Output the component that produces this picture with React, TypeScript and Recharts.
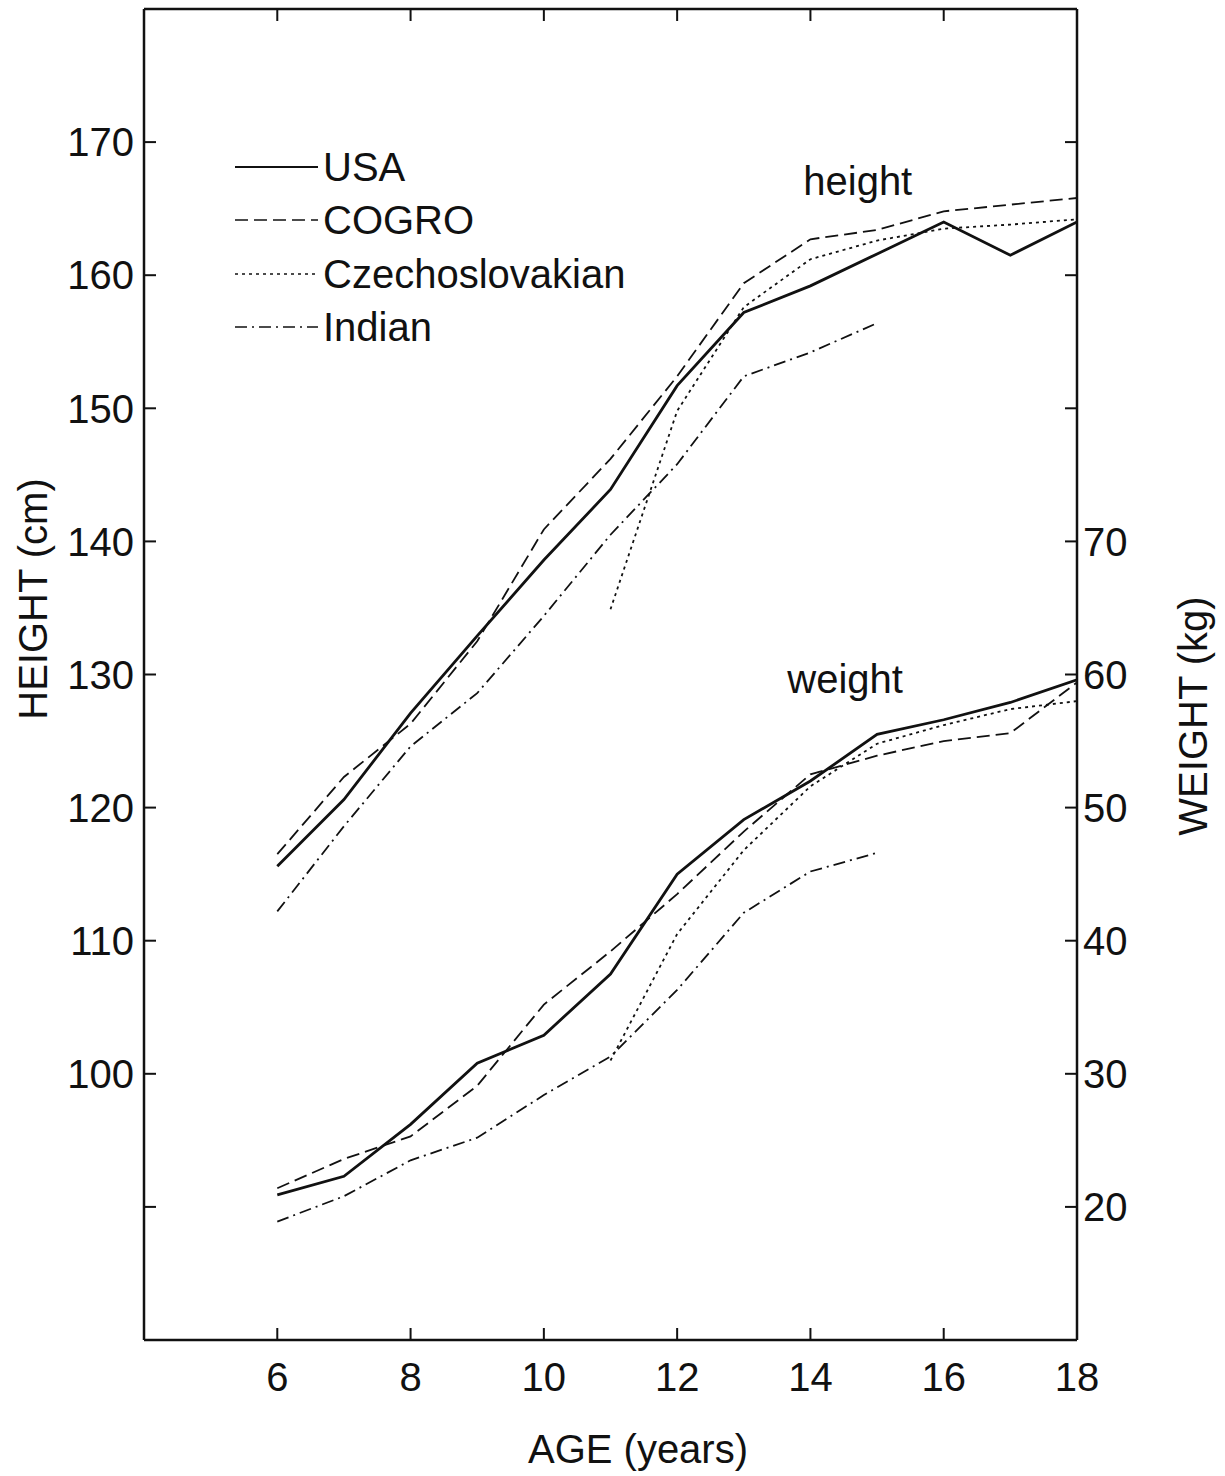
import React from "react";
import { LineChart, Line, XAxis, YAxis, Legend, ReferenceDot } from "recharts";

const FONT = "'Liberation Sans', Arial, Helvetica, sans-serif";
const INK = "#111";

const ages = [6, 7, 8, 9, 10, 11, 12, 13, 14, 15, 16, 17, 18];

// height (cm), left axis
const usaHeight = [115.6, 120.6, 127.1, 132.9, 138.6, 143.9, 151.7, 157.2, 159.2, 161.6, 164.0, 161.5, 164.0];
const cogroHeight = [116.5, 122.3, 126.3, 132.5, 140.9, 146.2, 152.4, 159.4, 162.7, 163.4, 164.8, 165.3, 165.8];
const czechHeight = [null, null, null, null, null, 134.9, 149.8, 157.6, 161.2, 162.6, 163.5, 163.8, 164.2];
const indianHeight = [112.2, 118.6, 124.6, 128.6, 134.4, 140.5, 145.8, 152.4, 154.2, 156.4, null, null, null];

// weight (kg), right axis
const usaWeight = [20.9, 22.3, 26.2, 30.8, 32.9, 37.5, 45.0, 49.1, 52.0, 55.5, 56.6, 57.9, 59.6];
const cogroWeight = [21.4, 23.6, 25.3, 29.1, 35.2, 39.2, 43.5, 48.2, 52.5, 53.9, 55.0, 55.6, 59.4];
const czechWeight = [null, null, null, null, null, 31.0, 40.5, 46.8, 51.6, 54.8, 56.2, 57.4, 58.0];
const indianWeight = [18.9, 20.8, 23.5, 25.2, 28.4, 31.3, 36.3, 42.1, 45.2, 46.6, null, null, null];

const ageTicks = [6, 8, 10, 12, 14, 16, 18];
const topTicks = [6, 8, 10, 12, 14, 16];
const heightTicks = [90, 100, 110, 120, 130, 140, 150, 160, 170];
const weightTicks = [20, 30, 40, 50, 60, 70, 80, 90, 100];

const series = [
  { key: "usa", name: "USA", dash: undefined, width: 2.8 },
  { key: "cogro", name: "COGRO", dash: "13 6", width: 1.8 },
  { key: "czech", name: "Czechoslovakian", dash: "3 4", width: 1.8 },
  { key: "indian", name: "Indian", dash: "12 5 2 5", width: 1.8 },
];

const data = ages.map((age, i) => ({
  age,
  usaH: usaHeight[i],
  cogroH: cogroHeight[i],
  czechH: czechHeight[i],
  indianH: indianHeight[i],
  usaW: usaWeight[i],
  cogroW: cogroWeight[i],
  czechW: czechWeight[i],
  indianW: indianWeight[i],
}));

const tickStyle = { fontSize: 40, fill: INK, fontFamily: FONT };

function renderLegend() {
  return (
    <div style={{ fontFamily: FONT, fontSize: 40, color: INK }}>
      {series.map((s) => (
        <div key={s.key} style={{ display: "flex", alignItems: "center", height: 53.5 }}>
          <svg width={88} height={10} style={{ display: "block" }}>
            <line x1={0} y1={5} x2={83} y2={5} stroke={INK} strokeWidth={s.key === "usa" ? 2 : 1.6} strokeDasharray={s.dash} />
          </svg>
          <span style={{ lineHeight: "40px" }}>{s.name}</span>
        </div>
      ))}
    </div>
  );
}

const titleText = (x: number, y: number, text: string, angle = 0) => () =>
  (
    <text
      x={x}
      y={y}
      textAnchor="middle"
      dominantBaseline="central"
      transform={angle ? `rotate(${angle} ${x} ${y})` : undefined}
      style={{ fontSize: 40, fill: INK, fontFamily: FONT }}
    >
      {text}
    </text>
  );

export default function App() {
  return (
    <div style={{ position: "absolute", left: 0, top: 0, background: "#fff" }}>
      <LineChart
        width={1225}
        height={1476}
        data={data}
        margin={{ top: 8, right: 48, bottom: 76, left: 44 }}
      >
        <XAxis
          xAxisId="bottom"
          dataKey="age"
          type="number"
          domain={[4, 18]}
          ticks={ageTicks}
          allowDataOverflow
          height={60}
          tickSize={-12}
          tickMargin={35}
          tick={tickStyle}
          axisLine={{ stroke: INK, strokeWidth: 2.5 }}
          tickLine={{ stroke: INK, strokeWidth: 2 }}
          label={titleText(638, 1449, "AGE (years)")}
        />
        <XAxis
          xAxisId="top"
          orientation="top"
          dataKey="age"
          type="number"
          domain={[4, 18]}
          ticks={topTicks}
          allowDataOverflow
          height={1}
          tickSize={-12}
          tickFormatter={() => ""}
          axisLine={{ stroke: INK, strokeWidth: 2.5 }}
          tickLine={{ stroke: INK, strokeWidth: 2 }}
        />
        <YAxis
          yAxisId="h"
          domain={[80, 180]}
          ticks={heightTicks}
          allowDataOverflow
          width={100}
          tickSize={-12}
          tickMargin={22}
          tick={tickStyle}
          tickFormatter={(v: number) => (v >= 100 ? String(v) : "")}
          axisLine={{ stroke: INK, strokeWidth: 2.5 }}
          tickLine={{ stroke: INK, strokeWidth: 2 }}
          label={titleText(33, 599, "HEIGHT (cm)", -90)}
        />
        <YAxis
          yAxisId="w"
          orientation="right"
          domain={[10, 110]}
          ticks={weightTicks}
          allowDataOverflow
          width={100}
          tickSize={-12}
          tickMargin={18}
          tick={tickStyle}
          tickFormatter={(v: number) => (v <= 70 ? String(v) : "")}
          axisLine={{ stroke: INK, strokeWidth: 2.5 }}
          tickLine={{ stroke: INK, strokeWidth: 2 }}
          label={titleText(1193, 716, "WEIGHT (kg)", -90)}
        />
        <Legend
          layout="horizontal"
          align="center"
          verticalAlign="middle"
          content={renderLegend}
          wrapperStyle={{ position: "absolute", left: 235, top: 140, width: 460, height: 214 }}
        />
        {series.map((s) => (
          <Line
            key={s.key + "H"}
            xAxisId="bottom"
            yAxisId="h"
            dataKey={s.key + "H"}
            name={s.name}
            type="linear"
            stroke={INK}
            strokeWidth={s.width}
            strokeDasharray={s.dash}
            dot={false}
            activeDot={false}
            isAnimationActive={false}
          />
        ))}
        {series.map((s) => (
          <Line
            key={s.key + "W"}
            xAxisId="bottom"
            yAxisId="w"
            dataKey={s.key + "W"}
            name={s.name + " weight"}
            legendType="none"
            type="linear"
            stroke={INK}
            strokeWidth={s.width}
            strokeDasharray={s.dash}
            dot={false}
            activeDot={false}
            isAnimationActive={false}
          />
        ))}
        <ReferenceDot
          xAxisId="bottom"
          yAxisId="h"
          x={14.71}
          y={167.1}
          r={0}
          fill="none"
          stroke="none"
          label={{ value: "height", position: "center", fontSize: 40, fill: INK, fontFamily: FONT }}
        />
        <ReferenceDot
          xAxisId="bottom"
          yAxisId="h"
          x={14.52}
          y={129.7}
          r={0}
          fill="none"
          stroke="none"
          label={{ value: "weight", position: "center", fontSize: 40, fill: INK, fontFamily: FONT }}
        />
      </LineChart>
    </div>
  );
}
